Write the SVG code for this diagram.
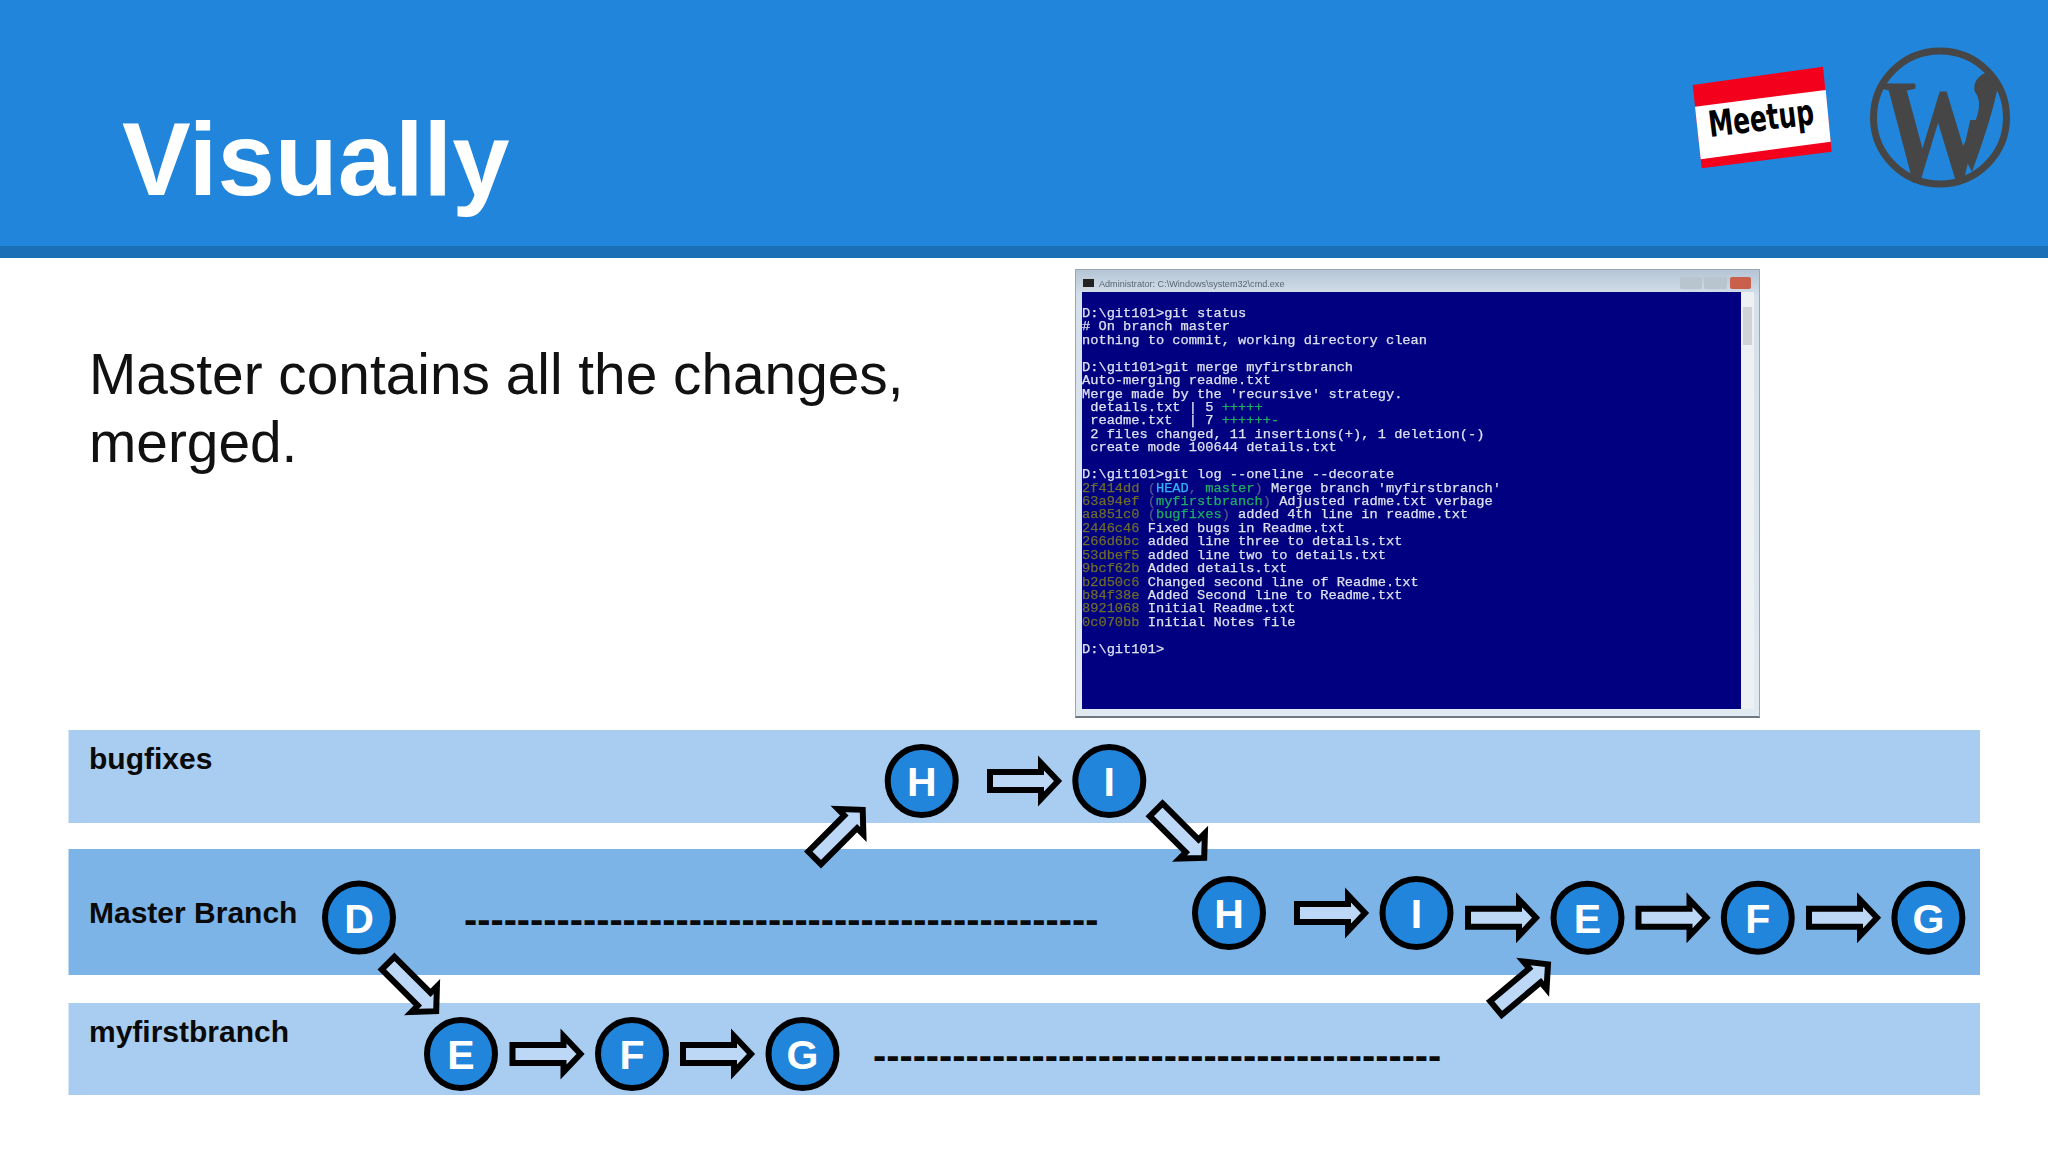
<svg xmlns="http://www.w3.org/2000/svg" width="2048" height="1152" viewBox="0 0 2048 1152">
<style>
.sans{font-family:"Liberation Sans",Arial,sans-serif}
.title{font-size:103px;font-weight:700;fill:#fff}
.body{font-size:56.8px;fill:#111}
.lab{font-size:30px;font-weight:700;fill:#0a0a0a}
.dash{font-size:39.7px;font-weight:700;fill:#0a0a0a}
.node circle{fill:#2186db;stroke:#000;stroke-width:6}
.node text{font-size:41px;font-weight:700;fill:#fff;text-anchor:middle}
.arrow{fill:#bdd7f7;stroke:#000;stroke-width:6;stroke-miterlimit:10}
.term{font-family:"Liberation Mono","DejaVu Sans Mono",monospace;font-size:13.7px;fill:#dde1ec;stroke:#dde1ec;stroke-width:.25}
.term text{white-space:pre}
.h{fill:#6e6c2c;stroke:#6e6c2c}.c{fill:#2fb4ee;stroke:#2fb4ee}.g{fill:#1fae62;stroke:#1fae62}.p{fill:#55558a;stroke:#55558a}
</style>
<defs>
<path id="arr" class="arrow" d="M3,-9H54V-18L71,0L54,18V9H3Z"/>
<filter id="soft" x="-5%" y="-5%" width="110%" height="110%"><feGaussianBlur stdDeviation="0.45"/></filter>
<linearGradient id="chrome" x1="0" y1="0" x2="0" y2="1"><stop offset="0" stop-color="#b4c4d4"/><stop offset="0.06" stop-color="#d4e0ea"/><stop offset="1" stop-color="#e2eaf1"/></linearGradient>
<clipPath id="wpc"><polygon points="1870,40 1966,40 1966,120 2010,120 2010,190 1870,190"/></clipPath>
</defs>
<rect width="2048" height="1152" fill="#fff"/>
<rect id="header" width="2048" height="246" fill="#2186db"/>
<rect id="header-strip" y="246" width="2048" height="12" fill="#1a6fb6"/>
<text class="sans title" x="122" y="195">Visually</text>

<g id="meetup">
<polygon points="1692.7,85 1823,66.7 1831.7,151.7 1701.7,168.3" fill="#f2001c"/>
<polygon points="1695,106.7 1825.7,90 1830.7,141.7 1700.7,159.3" fill="#fff"/>
<text transform="translate(1710,137) rotate(-7)" font-family="'DejaVu Sans',sans-serif" font-size="36" font-weight="700" fill="#000" textLength="106" lengthAdjust="spacingAndGlyphs">Meetup</text>
</g>
<g id="wordpress">
<circle cx="1940" cy="117.5" r="66.5" fill="none" stroke="#464646" stroke-width="7"/>
<g clip-path="url(#wpc)"><text transform="translate(1937,181) scale(.76,1)" font-family="'Liberation Serif',serif" font-weight="700" font-size="148" fill="#464646" text-anchor="middle">W</text></g>
<path d="M1975,92C1972,82 1980,72 1992,72L1998,85C1994,110 1980,150 1972,172L1961,150C1975,125 1985,105 1975,92Z" fill="#464646"/>
</g>

<text class="sans body" x="89" y="394">Master contains all the changes,</text>
<text class="sans body" x="89" y="462">merged.</text>

<g id="terminal">
<rect x="1075" y="269" width="685" height="448" fill="url(#chrome)"/>
<path d="M1075,717H1760" stroke="#6e7880" stroke-width="2" fill="none"/>
<path d="M1075.5,717V269.5H1759.5V717" stroke="#9aa6b0" stroke-width="1" fill="none"/>
<rect x="1082" y="292" width="659" height="417" fill="#000080"/>
<rect x="1741" y="292" width="13" height="417" fill="#eef1f4"/>
<rect x="1743" y="307" width="9" height="38" fill="#cfd3d7"/>
<rect x="1083" y="279" width="11" height="8" fill="#222"/>
<text x="1099" y="287" font-family="'Liberation Sans',sans-serif" font-size="9.1" fill="#5a6672" filter="url(#soft)">Administrator: C:\Windows\system32\cmd.exe</text>
<rect x="1680" y="277" width="22" height="12" rx="2" fill="#b8c4ce"/>
<rect x="1704" y="277" width="23" height="12" rx="2" fill="#b8c4ce"/>
<rect x="1730" y="277" width="21" height="12" rx="2" fill="#c8604c"/>
<g class="term" filter="url(#soft)">
<text x="1082" y="317">D:\git101&gt;git status</text>
<text x="1082" y="330.4"># On branch master</text>
<text x="1082" y="343.9">nothing to commit, working directory clean</text>
<text x="1082" y="370.7">D:\git101&gt;git merge myfirstbranch</text>
<text x="1082" y="384.2">Auto-merging readme.txt</text>
<text x="1082" y="397.6">Merge made by the 'recursive' strategy.</text>
<text x="1082" y="411"> details.txt | 5 <tspan class="g">+++++</tspan></text>
<text x="1082" y="424.4"> readme.txt  | 7 <tspan class="g">++++++-</tspan></text>
<text x="1082" y="437.9"> 2 files changed, 11 insertions(+), 1 deletion(-)</text>
<text x="1082" y="451.3"> create mode 100644 details.txt</text>
<text x="1082" y="478.2">D:\git101&gt;git log --oneline --decorate</text>
<text x="1082" y="491.6"><tspan class="h">2f414dd</tspan> <tspan class="p">(</tspan><tspan class="c">HEAD</tspan><tspan class="p">,</tspan> <tspan class="g">master</tspan><tspan class="p">)</tspan> Merge branch 'myfirstbranch'</text>
<text x="1082" y="505"><tspan class="h">63a94ef</tspan> <tspan class="p">(</tspan><tspan class="g">myfirstbranch</tspan><tspan class="p">)</tspan> Adjusted radme.txt verbage</text>
<text x="1082" y="518.4"><tspan class="h">aa851c0</tspan> <tspan class="p">(</tspan><tspan class="g">bugfixes</tspan><tspan class="p">)</tspan> added 4th line in readme.txt</text>
<text x="1082" y="531.9"><tspan class="h">2446c46</tspan> Fixed bugs in Readme.txt</text>
<text x="1082" y="545.3"><tspan class="h">266d6bc</tspan> added line three to details.txt</text>
<text x="1082" y="558.7"><tspan class="h">53dbef5</tspan> added line two to details.txt</text>
<text x="1082" y="572.1"><tspan class="h">9bcf62b</tspan> Added details.txt</text>
<text x="1082" y="585.6"><tspan class="h">b2d50c6</tspan> Changed second line of Readme.txt</text>
<text x="1082" y="599"><tspan class="h">b84f38e</tspan> Added Second line to Readme.txt</text>
<text x="1082" y="612.4"><tspan class="h">8921068</tspan> Initial Readme.txt</text>
<text x="1082" y="625.8"><tspan class="h">0c070bb</tspan> Initial Notes file</text>
<text x="1082" y="652.7">D:\git101&gt;</text>
</g>
</g>

<g id="bands">
<rect x="68.5" y="730" width="1911.5" height="93" fill="#a9cdf1"/>
<rect x="68.5" y="849" width="1911.5" height="126" fill="#7cb4e8"/>
<rect x="68.5" y="1003" width="1911.5" height="92" fill="#a9cdf1"/>
</g>
<text class="sans lab" x="89" y="769">bugfixes</text>
<text class="sans lab" x="89" y="923">Master Branch</text>
<text class="sans lab" x="89" y="1042">myfirstbranch</text>
<text class="sans dash" x="464" y="933">------------------------------------------------</text>
<text class="sans dash" x="873" y="1069">-------------------------------------------</text>

<g id="connectors">
<use href="#arr" transform="translate(812.5,860) rotate(-45)"/>
<use href="#arr" transform="translate(987,781)"/>
<use href="#arr" transform="translate(1154,807.7) rotate(45)"/>
<use href="#arr" transform="translate(1294,913)"/>
<use href="#arr" transform="translate(1465,917.7)"/>
<use href="#arr" transform="translate(1635.5,917.7)"/>
<use href="#arr" transform="translate(1806,917.7)"/>
<use href="#arr" transform="translate(386,961) rotate(45)"/>
<use href="#arr" transform="translate(509.5,1054)"/>
<use href="#arr" transform="translate(680,1054)"/>
<use href="#arr" transform="translate(1493.6,1010) rotate(-40)"/>
</g>

<g id="node-h1" class="node sans"><circle cx="921.7" cy="781" r="34"/><text x="921.7" y="796">H</text></g>
<g id="node-i1" class="node sans"><circle cx="1109.3" cy="781" r="34"/><text x="1109.3" y="796">I</text></g>
<g id="node-d" class="node sans"><circle cx="359" cy="917.5" r="34"/><text x="359" y="932.5">D</text></g>
<g id="node-h2" class="node sans"><circle cx="1229" cy="913" r="34"/><text x="1229" y="928">H</text></g>
<g id="node-i2" class="node sans"><circle cx="1416.5" cy="913" r="34"/><text x="1416.5" y="928">I</text></g>
<g id="node-e2" class="node sans"><circle cx="1587.5" cy="917.7" r="34"/><text x="1587.5" y="932.7">E</text></g>
<g id="node-f2" class="node sans"><circle cx="1757.8" cy="917.7" r="34"/><text x="1757.8" y="932.7">F</text></g>
<g id="node-g2" class="node sans"><circle cx="1928.4" cy="917.7" r="34"/><text x="1928.4" y="932.7">G</text></g>
<g id="node-e1" class="node sans"><circle cx="461" cy="1054" r="34"/><text x="461" y="1069">E</text></g>
<g id="node-f1" class="node sans"><circle cx="632" cy="1054" r="34"/><text x="632" y="1069">F</text></g>
<g id="node-g1" class="node sans"><circle cx="802.5" cy="1054" r="34"/><text x="802.5" y="1069">G</text></g>
</svg>
